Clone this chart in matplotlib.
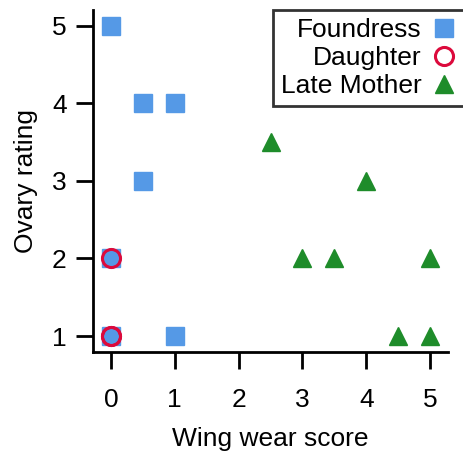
import matplotlib
matplotlib.use("Agg")
import matplotlib.pyplot as plt

plt.rcParams['font.family'] = ['Liberation Sans', 'DejaVu Sans']

# data
found_x = [0, 0.5, 1, 0.5, 0, 0, 1]
found_y = [5, 4, 4, 3, 2, 1, 1]
daught_x = [0, 0, 0]
daught_y = [2, 1, 1]
late_x = [2.5, 4, 3, 3.5, 5, 4.5, 5]
late_y = [3.5, 3, 2, 2, 2, 1, 1]

blue = '#5599e6'
red = '#dc0a3c'
green = '#1e8c2a'

fs = 19

fig = plt.figure(figsize=(4.63, 4.53), dpi=100)
ax = fig.add_axes([0.2009, 0.223, 0.7667, 0.755])

ax.plot(found_x, found_y, 's', color=blue, ms=13.5, mec=blue, ls='none', label='Foundress')
ax.plot(daught_x, daught_y, 'o', mfc='none', mec=red, ms=13, mew=2.2, ls='none', label='Daughter')
ax.plot(late_x, late_y, '^', color=green, ms=13.5, ls='none', label='Late Mother')

ax.set_xlim(-0.28, 5.28)
ax.set_ylim(0.794, 5.206)
ax.set_xticks(range(6))
ax.set_yticks(range(1, 6))

for s in ['top', 'right']:
    ax.spines[s].set_visible(False)
for s in ['left', 'bottom']:
    ax.spines[s].set_linewidth(2)

ax.tick_params(axis='both', length=12, width=2, labelsize=fs)
ax.tick_params(axis='x', pad=14)
ax.tick_params(axis='y', pad=7)

ax.set_xlabel('Wing wear score', fontsize=fs, labelpad=11)
ax.set_ylabel('Ovary rating', fontsize=fs, labelpad=10)

leg = ax.legend(loc='upper right', bbox_to_anchor=(1.045, 1.0), markerfirst=False,
                fontsize=fs, frameon=True, fancybox=False, handlelength=0.9,
                handletextpad=0.4, labelspacing=0.15, borderpad=0.3,
                borderaxespad=0.0)
leg.get_frame().set_edgecolor('black')
leg.get_frame().set_linewidth(2)

fig.savefig('out.png', dpi=100)
